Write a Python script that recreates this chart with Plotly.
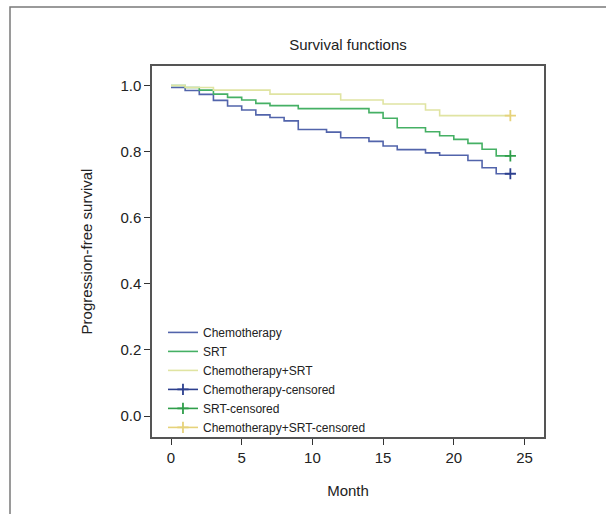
import plotly.graph_objects as go

# ---- data ----
chemo_t = [0, 1, 2, 3, 4, 5, 6, 7, 8, 9, 11, 12, 14, 15, 16, 18, 19, 21, 22, 23, 24]
chemo_s = [0.994, 0.985, 0.973, 0.955, 0.938, 0.926, 0.911, 0.903, 0.893, 0.867, 0.859,
           0.842, 0.831, 0.817, 0.806, 0.796, 0.789, 0.773, 0.751, 0.733, 0.733]

srt_t = [0, 1, 2, 3, 4, 5, 6, 7, 9, 14, 15, 16, 18, 19, 20, 21, 22, 23, 24]
srt_s = [1.0, 0.994, 0.986, 0.974, 0.964, 0.956, 0.946, 0.939, 0.930, 0.918, 0.901,
         0.872, 0.860, 0.848, 0.837, 0.825, 0.807, 0.787, 0.787]

combo_t = [0, 1, 3, 7, 12, 15, 18, 19, 24]
combo_s = [1.0, 0.994, 0.986, 0.974, 0.956, 0.944, 0.926, 0.909, 0.909]

censor_t = 24
x_ticks = [0, 5, 10, 15, 20, 25]
y_ticks = [0.0, 0.2, 0.4, 0.6, 0.8, 1.0]

FONT = "Liberation Sans, Arial, sans-serif"
TXT = "#222222"

c_blue, c_green, c_yel = "#5264ab", "#45b064", "#e0e4a2"
m_blue, m_green, m_yel = "#2c3f8e", "#2f9e4a", "#e6d27a"

fig = go.Figure()
fig.add_trace(go.Scatter(x=chemo_t, y=chemo_s, mode="lines", line=dict(color=c_blue, width=1.6, shape="hv"),
                         name="Chemotherapy"))
fig.add_trace(go.Scatter(x=srt_t, y=srt_s, mode="lines", line=dict(color=c_green, width=1.6, shape="hv"),
                         name="SRT"))
fig.add_trace(go.Scatter(x=combo_t, y=combo_s, mode="lines", line=dict(color=c_yel, width=1.6, shape="hv"),
                         name="Chemotherapy+SRT"))
for s, col, nm in [(chemo_s, m_blue, "Chemotherapy-censored"),
                   (srt_s, m_green, "SRT-censored"),
                   (combo_s, m_yel, "Chemotherapy+SRT-censored")]:
    fig.add_trace(go.Scatter(x=[censor_t], y=[s[-1]], mode="lines+markers",
                             line=dict(color=col, width=1.6),
                             marker=dict(symbol="cross-thin", size=8, line=dict(color=col, width=1.8)),
                             name=nm))

fig.update_layout(
    width=606, height=514,
    margin=dict(l=152, r=62, t=66, b=77),
    paper_bgcolor="white", plot_bgcolor="white",
    font=dict(family=FONT, size=15, color=TXT),
    title=dict(text="Survival functions", x=0.5, xref="paper", xanchor="center",
               y=1 - 45 / 514, yanchor="middle", font=dict(family=FONT, size=15, color=TXT)),
    showlegend=True,
    legend=dict(x=0.028, y=0.321, xanchor="left", yanchor="top", bgcolor="rgba(0,0,0,0)",
                font=dict(family=FONT, size=12, color=TXT), borderwidth=0),
    xaxis=dict(range=[-1.344, 26.38], tickvals=x_ticks, ticktext=[str(v) for v in x_ticks],
               ticks="outside", ticklen=6, tickwidth=1, tickcolor="#333",
               showline=True, mirror=True, linecolor="#555", linewidth=1.5,
               showgrid=False, zeroline=False,
               tickfont=dict(family=FONT, size=15, color=TXT),
               title=dict(text="Month", font=dict(family=FONT, size=15, color=TXT), standoff=21)),
    yaxis=dict(range=[-0.0635, 1.059], tickvals=y_ticks, ticktext=[f"{v:.1f}" for v in y_ticks],
               ticks="outside", ticklen=6, tickwidth=1, tickcolor="#333",
               showline=True, mirror=True, linecolor="#555", linewidth=1.5,
               showgrid=False, zeroline=False,
               tickfont=dict(family=FONT, size=15, color=TXT),
               title=dict(text="Progression-free survival", font=dict(family=FONT, size=15, color=TXT),
                          standoff=24)),
)

# outer frame of the figure panel: only its left and top edges fall inside the picture
fx0 = (10 - 152) / 392
fx1 = (720 - 152) / 392
fy0 = (437 - 600) / 371
fy1 = (437 - 7) / 371
fig.add_shape(type="path", xref="paper", yref="paper",
              path=f"M {fx0},{fy0} L {fx0},{fy1} L {fx1},{fy1}",
              line=dict(color="#7a7a7a", width=1.5), layer="below")

fig.write_html("out.html", config={"displayModeBar": False},
               post_script="document.body.style.margin='0';")
